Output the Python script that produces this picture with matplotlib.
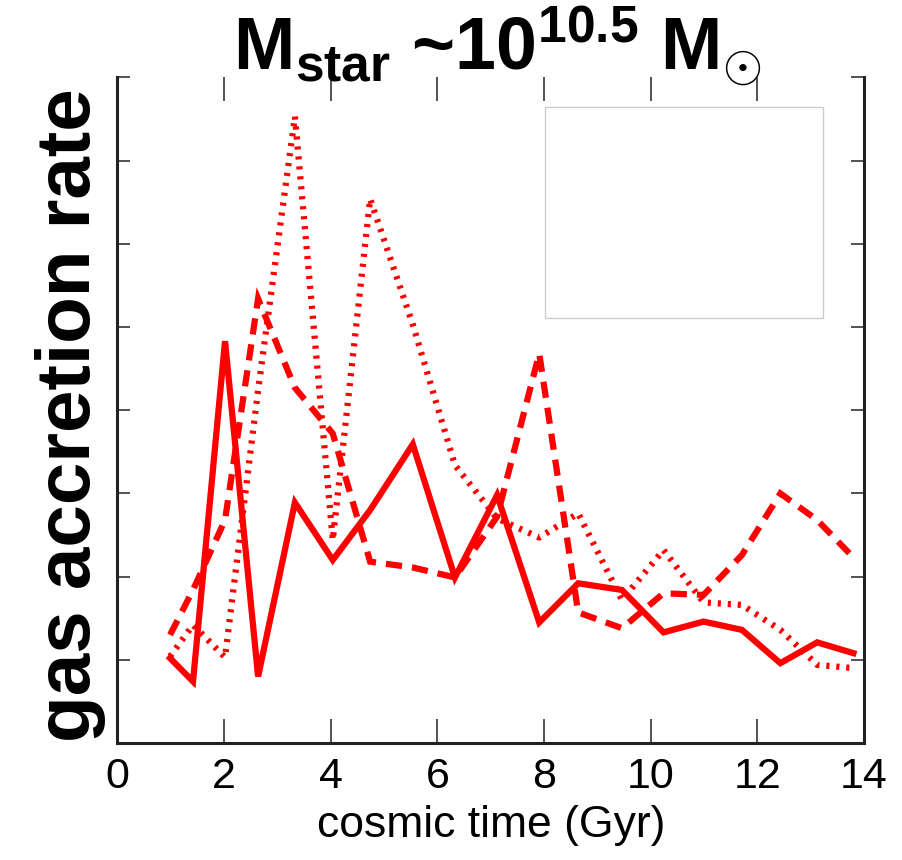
import matplotlib
matplotlib.use('Agg')
import matplotlib.pyplot as plt
from matplotlib.patches import Rectangle

plt.rcParams['font.family'] = ['Liberation Sans', 'DejaVu Sans']
plt.rcParams['mathtext.fontset'] = 'custom'
plt.rcParams['mathtext.rm'] = 'Liberation Sans'
plt.rcParams['mathtext.bf'] = 'Liberation Sans:bold'
plt.rcParams['mathtext.it'] = 'Liberation Sans:italic'

# tiempos de los snapshots (Gyr)
t = [0.99, 1.42, 2.02, 2.64, 3.33, 4.04, 4.74, 5.54, 6.33, 7.12,
     7.91, 8.64, 9.46, 10.24, 10.99, 11.71, 12.43, 13.12, 13.8]

# tasas de acrecion (sin unidades en el eje)
solid = [1.02, 0.74, 4.83, 0.80, 2.89, 2.20, 2.80, 3.59, 1.99, 2.98,
         1.45, 1.92, 1.84, 1.33, 1.46, 1.36, 0.96, 1.21, 1.08]
dashed = [1.30, 1.84, 2.68, 5.34, 4.27, 3.72, 2.18, 2.11, 1.99, 2.72,
          4.68, 1.57, 1.38, 1.80, 1.78, 2.26, 3.00, 2.68, 2.23]
dotted = [1.04, 1.42, 1.03, 4.24, 7.53, 2.44, 6.54, 5.03, 3.34, 2.70,
          2.47, 2.76, 1.72, 2.32, 1.69, 1.66, 1.36, 0.94, 0.90]

xticks = [0, 2, 4, 6, 8, 10, 12, 14]
yticks = [0, 1, 2, 3, 4, 5, 6, 7, 8]

rojo = '#ff0000'

fig = plt.figure(figsize=(9.02, 8.6), dpi=100)
ax = fig.add_axes([0.130, 0.136, 0.828, 0.774])

ax.plot(t, solid, color=rojo, lw=4.5, solid_joinstyle='miter')
ax.plot(t, dashed, color=rojo, lw=4.5, linestyle=(0, (2.6, 1.6)),
        dash_capstyle='butt', dash_joinstyle='miter')
ax.plot(t, dotted, color=rojo, lw=4.5, linestyle=(0, (0.5, 1.1)),
        dash_capstyle='butt')

ax.set_xlim(0, 14)
ax.set_ylim(0, 8)
ax.set_xticks(xticks)
ax.set_yticks(yticks)
ax.set_yticklabels([])

ax.spines['top'].set_visible(False)
for s in ['left', 'bottom', 'right']:
    ax.spines[s].set_linewidth(2.2)
    ax.spines[s].set_color('#222222')

ax.tick_params(axis='x', direction='in', top=True, length=17, width=1.3,
               color='#444444', labelsize=31, pad=10)
ax.tick_params(axis='y', direction='in', right=True, length=9.5, width=1.3,
               color='#444444')

# caja de la leyenda (vacia)
ax.add_patch(Rectangle((0.573, 0.638), 0.372, 0.317, transform=ax.transAxes,
                       fill=False, edgecolor='#cccccc', lw=1))

ax.set_xlabel('cosmic time (Gyr)', fontsize=32, labelpad=6)
fig.text(0.078, 0.517, 'gas accretion rate', rotation=90, fontsize=55,
         fontweight='bold', ha='center', va='center')

fig.text(0.551, 0.918,
         r'$\mathbf{M_{star}}$ ~$\mathbf{10^{10.5}}$ $\mathbf{M}_{\odot}$',
         fontsize=53, fontweight='bold', ha='center', va='baseline')

plt.savefig('out.png', dpi=100)
